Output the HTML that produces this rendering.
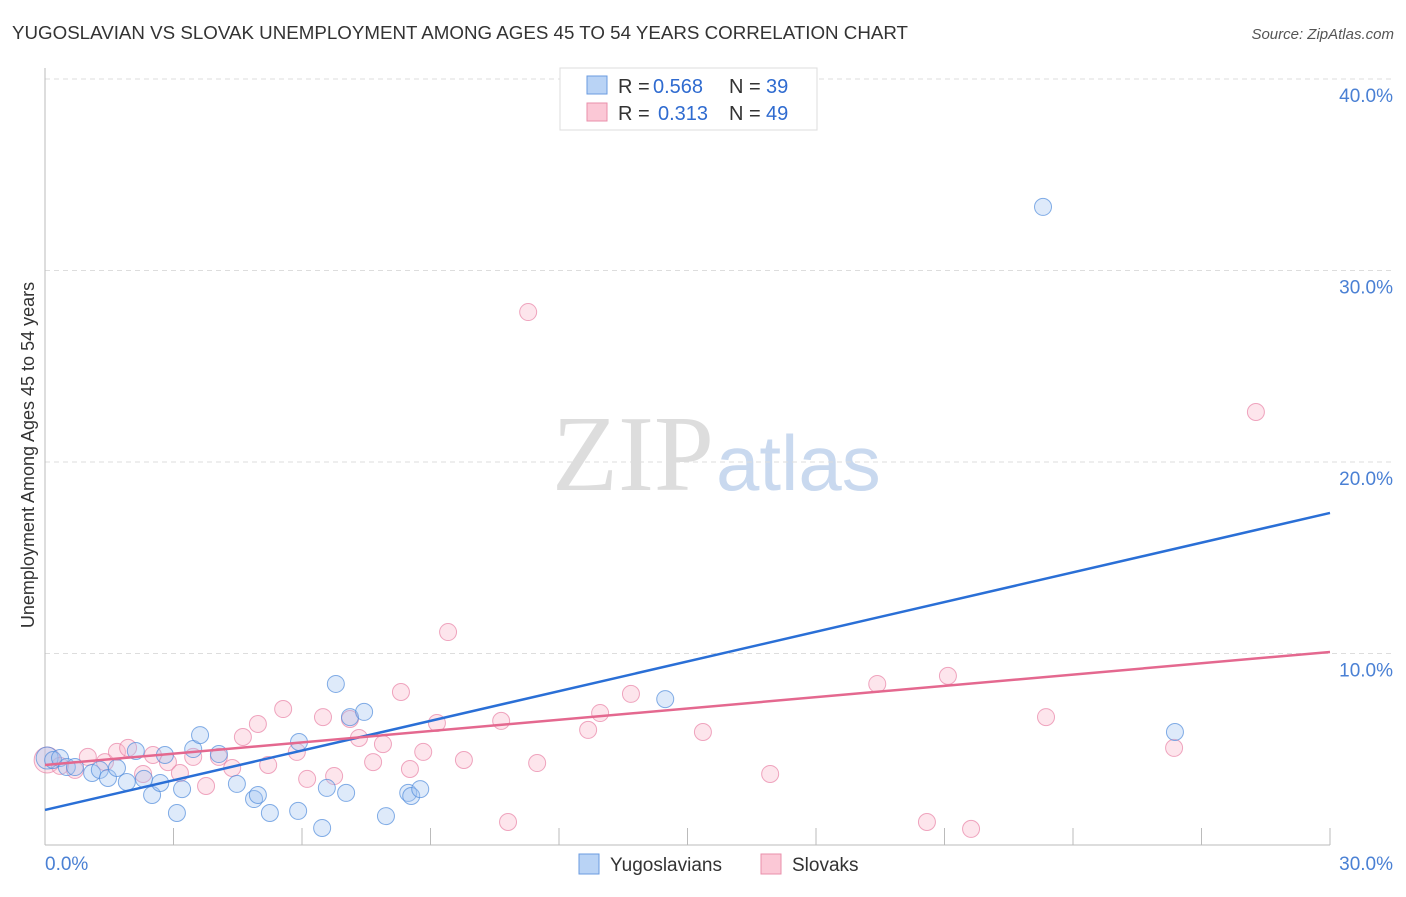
<!DOCTYPE html>
<html><head><meta charset="utf-8"><style>
body{margin:0;background:#fff;font-family:"Liberation Sans",sans-serif;}
</style></head><body>
<svg width="1406" height="892" xmlns="http://www.w3.org/2000/svg">
<text x="12" y="39" font-size="18" fill="#333" textLength="896" lengthAdjust="spacingAndGlyphs">YUGOSLAVIAN VS SLOVAK UNEMPLOYMENT AMONG AGES 45 TO 54 YEARS CORRELATION CHART</text>
<text x="1394" y="39" font-size="15" fill="#555" font-style="italic" text-anchor="end">Source: ZipAtlas.com</text>
<text x="714" y="490" font-size="108" fill="#ddd" text-anchor="end" font-family="Liberation Serif,serif">ZIP</text>
<text x="716" y="490" font-size="78" fill="#c9d9ef">atlas</text>
<g id="grid"></g>
<g id="axes"></g>
<text transform="translate(34,455) rotate(-90)" font-size="18" fill="#333" text-anchor="middle">Unemployment Among Ages 45 to 54 years</text>
<g id="pts"></g>
<g id="lines"></g>
<g>
<rect x="560" y="68" width="257" height="62" fill="#fff" stroke="#ddd"/>
<rect x="587" y="76" width="20" height="18" fill="#b9d3f5" stroke="#6a9be0"/>
<rect x="587" y="103" width="20" height="18" fill="#fbc8d6" stroke="#ea8fab"/>
<text x="618" y="93" font-size="20" fill="#333">R =</text><text x="653" y="93" font-size="20" fill="#2f6bd0">0.568</text>
<text x="729" y="93" font-size="20" fill="#333">N =</text><text x="766" y="93" font-size="20" fill="#2f6bd0">39</text>
<text x="618" y="120" font-size="20" fill="#333">R =</text><text x="658" y="120" font-size="20" fill="#2f6bd0">0.313</text>
<text x="729" y="120" font-size="20" fill="#333">N =</text><text x="766" y="120" font-size="20" fill="#2f6bd0">49</text>
</g>
<g>
<rect x="579" y="854" width="20" height="20" fill="#b9d3f5" stroke="#6a9be0"/>
<text x="610" y="871" font-size="19" fill="#333">Yugoslavians</text>
<rect x="761" y="854" width="20" height="20" fill="#fbc8d6" stroke="#ea8fab"/>
<text x="792" y="871" font-size="19" fill="#333">Slovaks</text>
</g>
</svg>
<script>
const yTicks=[10,20,30,40];
const yTickLabels=["10.0%","20.0%","30.0%","40.0%"];
const xTicks=[0,3,6,9,12,15,18,21,24,27,30];
const yugoX=[0.05,0.19,0.35,0.51,0.70,1.10,1.28,1.47,1.68,1.91,2.12,2.31,2.50,2.69,2.80,3.08,3.20,3.46,3.62,4.06,4.48,4.88,4.97,5.25,5.91,5.93,6.47,6.58,6.79,7.03,7.12,7.45,7.96,8.48,8.55,8.76,14.48,23.30,26.38];
const yugoY=[4.54,4.44,4.54,4.07,4.07,3.76,3.92,3.50,4.02,3.29,4.91,3.45,2.61,3.24,4.70,1.67,2.92,5.01,5.74,4.75,3.19,2.40,2.61,1.67,1.78,5.38,0.89,2.98,8.41,2.72,6.68,6.95,1.51,2.72,2.56,2.92,7.62,33.32,5.90];
const slovX=[0.05,0.35,0.70,1.00,1.40,1.68,1.94,2.29,2.52,2.87,3.15,3.46,3.76,4.06,4.37,4.62,4.97,5.21,5.56,5.88,6.12,6.49,6.75,7.12,7.33,7.66,7.89,8.31,8.52,8.83,9.15,9.41,9.78,10.65,10.81,11.28,11.49,12.68,12.96,13.68,15.36,16.93,19.43,20.59,21.08,21.62,23.37,26.36,28.27];
const slovY=[4.44,4.13,3.92,4.60,4.33,4.86,5.07,3.71,4.70,4.33,3.76,4.60,3.08,4.60,4.02,5.64,6.32,4.18,7.10,4.86,3.45,6.68,3.60,6.58,5.59,4.33,5.27,7.99,3.97,4.86,6.37,11.12,4.44,6.48,1.20,27.83,4.28,6.01,6.89,7.89,5.90,3.71,8.41,1.20,8.83,0.84,6.68,5.07,22.61];
const yugoTrend=[1.83,17.34];
const slovTrend=[4.18,10.08];
const NS="http://www.w3.org/2000/svg";
const sx=v=>45+v*(1285/30);
const sy=v=>845-v*19.15;
function mk(tag,attrs,parent){const e=document.createElementNS(NS,tag);for(const k in attrs)e.setAttribute(k,attrs[k]);document.getElementById(parent).appendChild(e);return e;}
yTicks.forEach((t,i)=>{
 const g=mk('line',{x1:45,x2:1392,y1:sy(t),y2:sy(t),stroke:'#ddd','stroke-dasharray':'5,4'},'grid');
 
 
 const l=mk('text',{x:1393,y:sy(t)+23,'font-size':19,fill:'#4a80d4','text-anchor':'end'},'grid');
 l.textContent=yTickLabels[i];
 
 
});
mk('line',{x1:45,x2:45,y1:68,y2:845,stroke:'#bbb'},'axes');
mk('line',{x1:45,x2:1330,y1:845,y2:845,stroke:'#bbb'},'axes');
xTicks.forEach(t=>{if(t>0){const e=mk('line',{x1:sx(t),x2:sx(t),y1:828,y2:845,stroke:'#bbb'},'axes');
 
 }});
const xl0=mk('text',{x:45,y:870,'font-size':19,fill:'#4a80d4'},'axes');xl0.textContent='0.0%';


const xl1=mk('text',{x:1393,y:870,'font-size':19,fill:'#4a80d4','text-anchor':'end'},'axes');xl1.textContent='30.0%';


slovX.forEach((x,i)=>{const c=mk('circle',{cx:sx(x),cy:sy(slovY[i]),r:i==0?13:8.5,fill:'rgba(248,180,200,0.35)',stroke:'rgba(232,130,165,0.7)'},'pts');
 
 });
yugoX.forEach((x,i)=>{const c=mk('circle',{cx:sx(x),cy:sy(yugoY[i]),r:i==0?11:8.5,fill:'rgba(160,196,240,0.35)',stroke:'rgba(80,140,220,0.7)'},'pts');
 
 });
const tl1=mk('line',{x1:sx(0),y1:sy(yugoTrend[0]),x2:sx(30),y2:sy(yugoTrend[1]),stroke:'#2a6fd6','stroke-width':2.5},'lines');


const tl2=mk('line',{x1:sx(0),y1:sy(slovTrend[0]),x2:sx(30),y2:sy(slovTrend[1]),stroke:'#e4688f','stroke-width':2.5},'lines');


</script>
</body></html>
